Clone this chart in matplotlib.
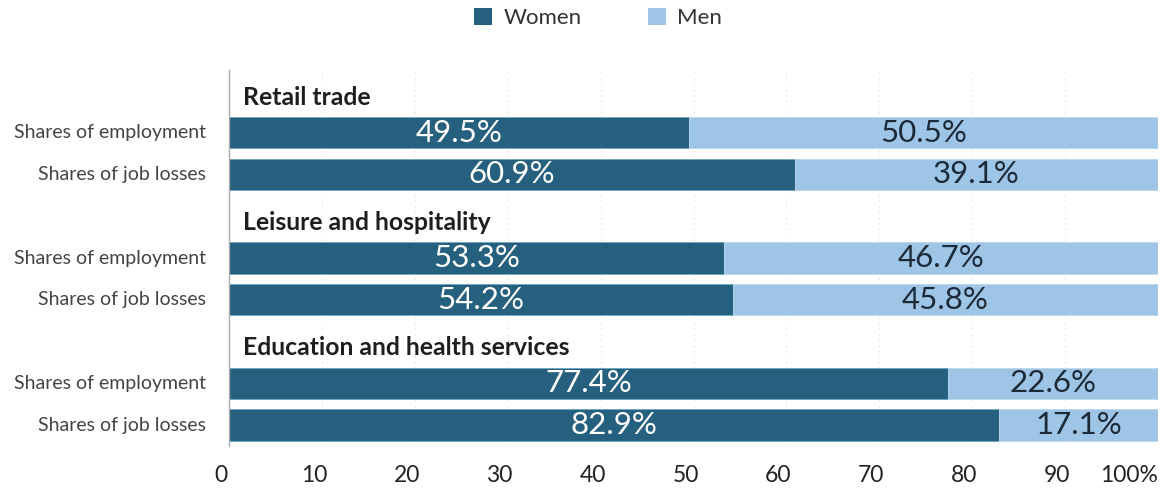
import matplotlib
matplotlib.use("Agg")
import matplotlib.pyplot as plt
from matplotlib.transforms import offset_copy
from matplotlib.patches import Patch

plt.rcParams['font.family'] = ['Lato', 'DejaVu Sans']

groups = ["Retail trade", "Leisure and hospitality", "Education and health services"]
row_labels = ["Shares of employment", "Shares of job losses"]
women = [[49.5, 60.9], [53.3, 54.2], [77.4, 82.9]]
men = [[50.5, 39.1], [46.7, 45.8], [22.6, 17.1]]
xticks = [0, 10, 20, 30, 40, 50, 60, 70, 80, 90, 100]
xticklabels = ["0", "10", "20", "30", "40", "50", "60", "70", "80", "90", "100%"]

C_W = "#26607f"
C_M = "#9ec4e6"

fig = plt.figure(figsize=(11.63, 4.9), dpi=100)
ax = fig.add_axes([229/1163, 1-446/490, (1158-229)/1163, (446-70)/490])

ax.set_xlim(0, 100)
ax.set_ylim(8.5, -0.5)

for gi, g in enumerate(groups):
    ty = gi * 3
    ax.text(1.5, ty + 0.15, g, fontsize=17.8, fontweight='bold', color='#1e1e1e',
            va='center', ha='left')
    for ri, rl in enumerate(row_labels):
        y = ty + 1 + ri
        w = women[gi][ri]
        m = men[gi][ri]
        ax.barh(y, w, height=0.75, left=0, color=C_W, edgecolor='#6fa6c6', linewidth=0.6)
        ax.barh(y, m, height=0.75, left=w, color=C_M, edgecolor='#bcd8ee', linewidth=0.6)
        ax.text(w / 2, y, f"{w:.1f}%", color='white', fontsize=22.5, ha='center', va='center')
        ax.text(w + m / 2, y, f"{m:.1f}%", color='#1b2a38', fontsize=22.5, ha='center', va='center')
        ax.text(-2.5, y, rl, fontsize=14, color='#444444', ha='right', va='center',
                clip_on=False)

for x in xticks[1:]:
    ax.axvline(x, color='#dddddd', linestyle=(0, (1, 4)), linewidth=0.8, zorder=0)

ax.set_xticks(xticks)
ax.set_xticklabels(xticklabels, fontsize=16.5, color='#222222')
ax.tick_params(axis='x', length=0, pad=14)
ax.set_yticks([])
for lab, v in zip(ax.get_xticklabels(), xticks):
    if v == 100:
        lab.set_ha('right')
    else:
        lab.set_transform(offset_copy(lab.get_transform(), fig=fig, x=-8, y=0, units='dots'))

for s in ['top', 'right', 'bottom']:
    ax.spines[s].set_visible(False)
ax.spines['left'].set_color('#aaaaaa')
ax.spines['left'].set_linewidth(1.0)

handles = [Patch(facecolor=C_W, label='Women'), Patch(facecolor=C_M, label='Men')]
fig.legend(handles=handles, loc='center', bbox_to_anchor=(598/1163, 1-18/490), ncol=2,
           frameon=False, fontsize=16, handlelength=0.8, handleheight=0.8,
           columnspacing=3.0, handletextpad=0.5, labelcolor='#333333')

fig.savefig("out.png", dpi=100)
